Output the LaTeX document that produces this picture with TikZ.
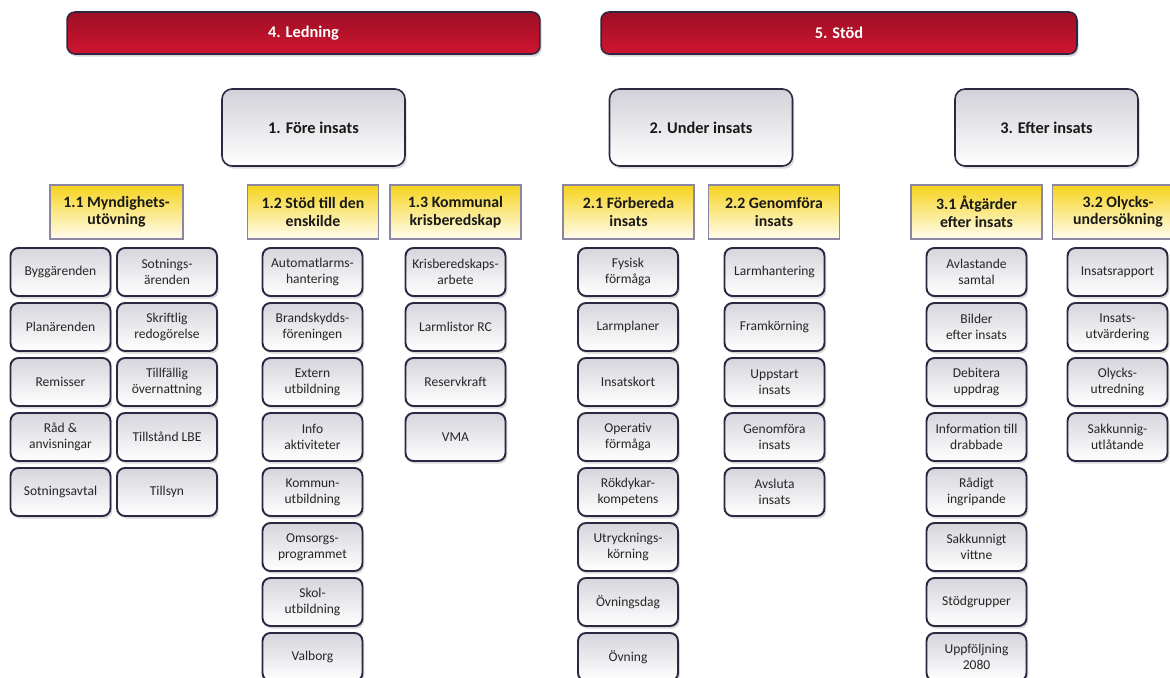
\documentclass[tikz,border=0pt]{standalone}
\usepackage{fontspec}
\setmainfont{Carlito}
\usetikzlibrary{shadows}

\definecolor{barTop}{HTML}{9C0F25}
\definecolor{barBot}{HTML}{D01530}
\definecolor{edgeDark}{HTML}{2E2742}
\definecolor{boxTop}{HTML}{D2D1D8}
\definecolor{leafTop}{HTML}{D6D5DC}
\definecolor{yelTop}{HTML}{F6D31C}
\definecolor{yelBot}{HTML}{FFFDF0}
\definecolor{yelEdge}{HTML}{8C86A0}

\tikzset{
  shade/.style={drop shadow={opacity=0.3,shadow xshift=1pt,shadow yshift=-1.5pt}},
  redbar/.style={shade, draw=edgeDark, line width=0.9pt, rounded corners=0.16cm,
    top color=barTop, bottom color=barBot, text=white,
    minimum height=0.84cm, font=\fontsize{9.3}{11}\selectfont\bfseries},
  phase/.style={shade, draw=edgeDark, line width=0.9pt, rounded corners=0.2cm,
    top color=boxTop, bottom color=white, text=black!90,
    minimum width=3.66cm, minimum height=1.54cm, font=\fontsize{9.3}{11}\selectfont\bfseries},
  area/.style={draw=yelEdge, line width=0.6pt, top color=yelTop, bottom color=yelBot,
    text=black!90, align=center, inner sep=1pt,
    minimum width=2.62cm, minimum height=1.08cm, font=\fontsize{9}{10}\selectfont\bfseries},
  leaf/.style={shade, draw=edgeDark, line width=1.1pt, rounded corners=0.16cm,
    top color=leafTop, bottom color=white, text=black!85, align=center, inner sep=1pt,
    minimum width=2cm, minimum height=0.96cm, font=\fontsize{7.7}{9.3}\selectfont}
}

\begin{document}
\begin{tikzpicture}[x=0.02cm, y=-0.02cm]
  \useasboundingbox (0,0) rectangle (1170,678);

  % ledning och stöd
  \node[redbar, minimum width=9.46cm] (ledning) at (303.5,33) {4. Ledning};
  \node[redbar, minimum width=9.52cm] (stod) at (839,33) {5. Stöd};

  % faser
  \node[phase] (fore) at (313.5,127.5) {1. Före insats};
  \node[phase] (under) at (701,127.5) {2. Under insats};
  \node[phase] (efter) at (1046.5,127.5) {3. Efter insats};

  % områden
  \node[area, minimum width=2.66cm] (myn) at (116.5,212) {1.1 Myndighets-\\utövning};
  \node[area] (enskild) at (313,212) {1.2 Stöd till den\\enskilde};
  \node[area] (kris) at (455.5,212) {1.3 Kommunal\\krisberedskap};
  \node[area] (forbered) at (628.5,212) {2.1 Förbereda\\insats};
  \node[area] (genomfor) at (774,212) {2.2 Genomföra\\insats};
  \node[area] (atgard) at (976.5,212) {3.1 Åtgärder\\efter insats};
  \node[area] (olycka) at (1118,212) {3.2 Olycks-\\undersökning};

  % aktiviteter
  \foreach \txt [count=\i] in {Byggärenden, Planärenden, Remisser, {Råd \&\\anvisningar}, Sotningsavtal}
    \node[leaf] (myna-\i) at (60.5,217+55*\i) {\txt};
  \foreach \txt [count=\i] in {{Sotnings-\\ärenden}, {Skriftlig\\redogörelse}, {Tillfällig\\övernattning}, Tillstånd LBE, Tillsyn}
    \node[leaf] (mynb-\i) at (167,217+55*\i) {\txt};
  \foreach \txt [count=\i] in {{Automatlarms-\\hantering}, {Brandskydds-\\föreningen}, {Extern\\utbildning}, {Info\\aktiviteter}, {Kommun-\\utbildning}, {Omsorgs-\\programmet}, {Skol-\\utbildning}, Valborg}
    \node[leaf] (enskild-\i) at (312.5,217+55*\i) {\txt};
  \foreach \txt [count=\i] in {{Krisberedskaps-\\arbete}, Larmlistor RC, Reservkraft, VMA}
    \node[leaf] (kris-\i) at (455.5,217+55*\i) {\txt};
  \foreach \txt [count=\i] in {{Fysisk\\förmåga}, Larmplaner, Insatskort, {Operativ\\förmåga}, {Rökdykar-\\kompetens}, {Utrycknings-\\körning}, Övningsdag, Övning}
    \node[leaf] (forbered-\i) at (628,217+55*\i) {\txt};
  \foreach \txt [count=\i] in {Larmhantering, Framkörning, {Uppstart\\insats}, {Genomföra\\insats}, {Avsluta\\insats}}
    \node[leaf] (genomfor-\i) at (774.5,217+55*\i) {\txt};
  \foreach \txt [count=\i] in {{Avlastande\\samtal}, {Bilder\\efter insats}, {Debitera\\uppdrag}, {Information till\\drabbade}, {Rådigt\\ingripande}, {Sakkunnigt\\vittne}, Stödgrupper, {Uppföljning\\2080}}
    \node[leaf] (atgard-\i) at (976.5,217+55*\i) {\txt};
  \foreach \txt [count=\i] in {Insatsrapport, {Insats-\\utvärdering}, {Olycks-\\utredning}, {Sakkunnig-\\utlåtande}}
    \node[leaf] (olycka-\i) at (1117.5,217+55*\i) {\txt};
\end{tikzpicture}
\end{document}
